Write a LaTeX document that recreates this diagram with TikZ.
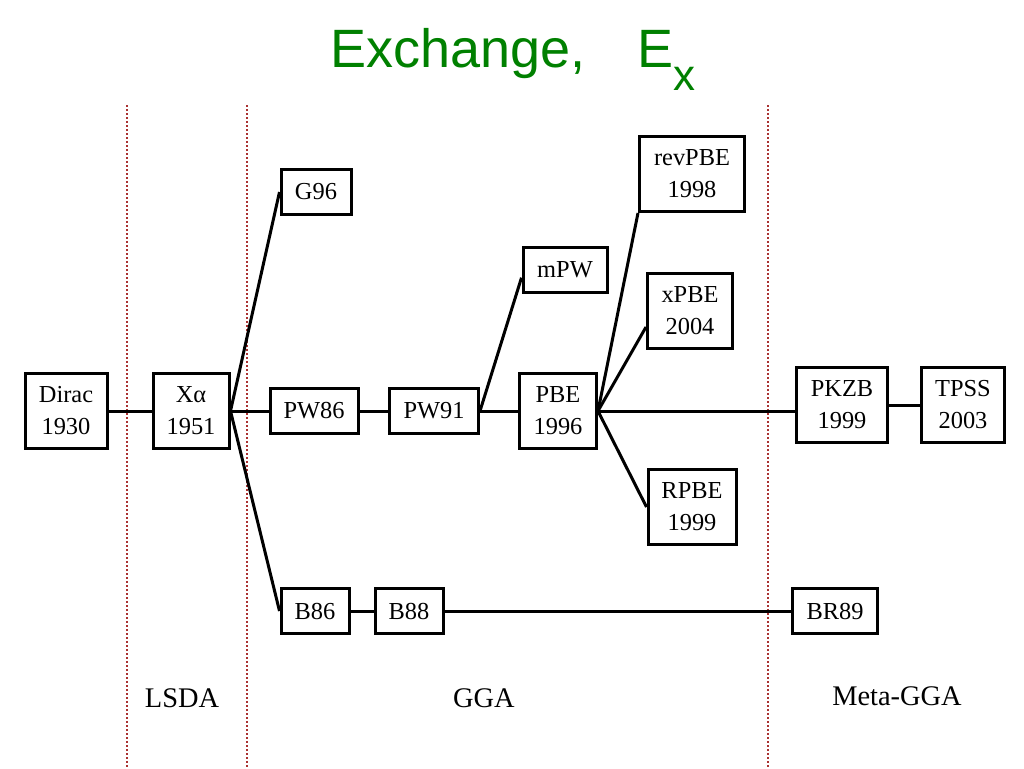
\documentclass[tikz,border=0pt]{standalone}
\usepackage{fontspec}
\setmainfont{Liberation Serif}
\newfontfamily\titlefont{Liberation Sans}
\definecolor{titlegreen}{RGB}{0,128,0}
\definecolor{divider}{RGB}{170,50,50}

\begin{document}
\begin{tikzpicture}[x=0.5pt,y=-0.5pt,
    box/.style={draw,line width=1.5pt,align=center,inner sep=0pt,
      font=\fontsize{12.2}{16}\selectfont},
    tall/.style={minimum height=37.5pt},
    flat/.style={minimum height=22.5pt},
    link/.style={line width=1.5pt},
    era/.style={font=\fontsize{14.2}{17}\selectfont}]

  \useasboundingbox (0,0) rectangle (1024,768);

  % Title
  \node[anchor=base,text=titlegreen,font=\titlefont\fontsize{27}{30}\selectfont]
    (title) at (513,67) {Exchange,\hspace{0.95em}E\raisebox{-11.5pt}{\fontsize{22}{24}\selectfont x}};

  % Dividers
  \foreach \x in {127,247,768}{%
    \draw[divider,line width=0.8pt,dash pattern=on 0.8pt off 1.2pt] (\x,105) -- (\x,768);}

  % Functionals
  \node[box,tall,minimum width=41pt]   (Dirac)  at (66,411)  {Dirac\\1930};
  \node[box,tall,minimum width=38pt]   (Xa)     at (191,411) {Xα\\1951};
  \node[box,flat,minimum width=35pt]   (G96)    at (316,192) {G96};
  \node[box,flat,minimum width=44pt]   (PW86)   at (314,411) {PW86};
  \node[box,flat,minimum width=44.5pt] (PW91)   at (434,411) {PW91};
  \node[box,flat,minimum width=42pt]   (mPW)    at (565,270) {mPW};
  \node[box,tall,minimum width=38.5pt] (PBE)    at (558,411) {PBE\\1996};
  \node[box,tall,minimum width=52.5pt] (revPBE) at (692,174) {revPBE\\1998};
  \node[box,tall,minimum width=42.5pt] (xPBE)   at (690,311) {xPBE\\2004};
  \node[box,tall,minimum width=44pt]   (RPBE)   at (692,507) {RPBE\\1999};
  \node[box,tall,minimum width=45.5pt] (PKZB)   at (842,405) {PKZB\\1999};
  \node[box,tall,minimum width=41.5pt] (TPSS)   at (963,405) {TPSS\\2003};
  \node[box,flat,minimum width=34pt]   (B86)    at (315,611) {B86};
  \node[box,flat,minimum width=34pt]   (B88)    at (409,611) {B88};
  \node[box,flat,minimum width=42.5pt] (BR89)   at (835,611) {BR89};

  % Links
  \draw[link] (Dirac) -- (Xa);
  \draw[link] (Xa.east) -- (G96.west);
  \draw[link] (Xa.east) -- (PW86.west);
  \draw[link] (Xa.east) -- (B86.west);
  \draw[link] (PW86) -- (PW91);
  \draw[link] (PW91.east) -- (mPW.190);
  \draw[link] (PW91) -- (PBE);
  \draw[link] (PBE.east) -- (revPBE.south west);
  \draw[link] (PBE.east) -- (xPBE.200);
  \draw[link] (PBE.east) -- (RPBE.west);
  \draw[link] (PBE.east) -- (PBE.east -| PKZB.west);
  \draw[link] (PKZB) -- (TPSS);
  \draw[link] (B86) -- (B88);
  \draw[link] (B88) -- (BR89);

  % Families
  \node[era] (lsda) at (182,698) {LSDA};
  \node[era] (gga)  at (484,698) {GGA};
  \node[era] (meta) at (897,696) {Meta-GGA};

\end{tikzpicture}
\end{document}
